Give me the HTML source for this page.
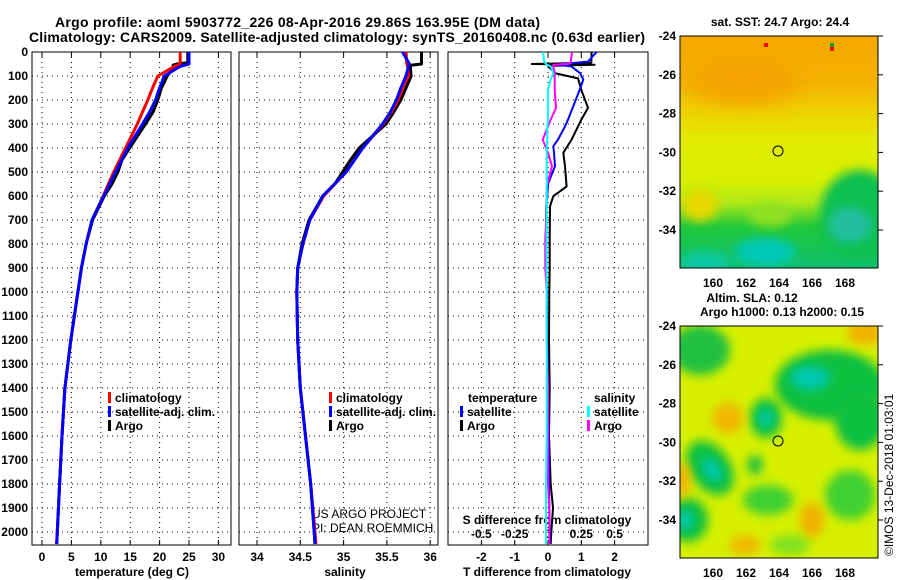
<!DOCTYPE html>
<html><head><meta charset="utf-8"><style>
body{margin:0;background:#fff;width:900px;height:580px;overflow:hidden}
svg{display:block;font-family:"Liberation Sans",sans-serif;font-weight:bold}
</style></head><body>
<svg id="c" width="900" height="580" xmlns="http://www.w3.org/2000/svg">
<defs>
<filter id="bl" x="-50%" y="-50%" width="200%" height="200%"><feGaussianBlur stdDeviation="9"/></filter>
<filter id="bl2" x="-50%" y="-50%" width="200%" height="200%"><feGaussianBlur stdDeviation="5"/></filter>
<clipPath id="m1"><rect x="680" y="36" width="198" height="232"/></clipPath>
<clipPath id="m2"><rect x="680" y="326" width="198" height="232"/></clipPath>
<linearGradient id="sst" x1="0" y1="0" x2="0" y2="1">
<stop offset="0" stop-color="#f5a800"/><stop offset="0.2" stop-color="#f3b000"/><stop offset="0.32" stop-color="#eed000"/><stop offset="0.45" stop-color="#e2ec00"/><stop offset="0.62" stop-color="#d8f000"/><stop offset="0.72" stop-color="#b0e818"/><stop offset="0.82" stop-color="#20c838"/><stop offset="1" stop-color="#10c070"/></linearGradient>
</defs>
<text x="55" y="27" font-size="14" textLength="485">Argo profile: aoml 5903772_226 08-Apr-2016 29.86S 163.95E (DM data)</text>
<text x="29" y="42" font-size="14" textLength="616">Climatology: CARS2009. Satellite-adjusted climatology: synTS_20160408.nc (0.63d earlier)</text>

<g>
<g clip-path="url(#m1)">
<rect x="680" y="36" width="198" height="232" fill="url(#sst)"/>
<ellipse cx="745" cy="80" rx="55" ry="25" fill="#f5a400" filter="url(#bl)"/>
<ellipse cx="700" cy="205" rx="18" ry="16" fill="#e8d800" filter="url(#bl2)"/>
<ellipse cx="860" cy="215" rx="40" ry="45" fill="#10c050" filter="url(#bl2)"/>
<ellipse cx="850" cy="225" rx="22" ry="18" fill="#20c0a0" filter="url(#bl2)"/>
<ellipse cx="765" cy="252" rx="30" ry="14" fill="#00c8b8" filter="url(#bl2)"/>
<ellipse cx="705" cy="262" rx="25" ry="10" fill="#10c8a8" filter="url(#bl2)"/>
<ellipse cx="770" cy="215" rx="22" ry="12" fill="#90e020" filter="url(#bl2)"/>
<rect x="764" y="43" width="4" height="4" fill="#f00"/><rect x="830" y="43" width="4" height="4" fill="#10a040"/><rect x="830" y="47" width="4" height="4" fill="#f00"/>
</g>
<rect x="680" y="36" width="198" height="232" fill="none" stroke="#000"/>
<circle cx="778" cy="151" r="5" fill="none" stroke="#000"/>
</g>
<g>
<g clip-path="url(#m2)">
<rect x="680" y="326" width="198" height="232" fill="#d6f000"/>
<ellipse cx="830" cy="385" rx="55" ry="35" fill="#10c040" filter="url(#bl2)"/>
<ellipse cx="860" cy="420" rx="25" ry="30" fill="#10c040" filter="url(#bl2)"/>
<ellipse cx="810" cy="378" rx="20" ry="12" fill="#00c8b0" filter="url(#bl2)"/>
<ellipse cx="700" cy="350" rx="30" ry="25" fill="#20c040" filter="url(#bl2)"/>
<ellipse cx="766" cy="418" rx="16" ry="20" fill="#10c040" filter="url(#bl2)"/>
<ellipse cx="766" cy="418" rx="7" ry="9" fill="#00c8b0" filter="url(#bl2)"/>
<ellipse cx="710" cy="468" rx="20" ry="30" fill="#10c040" transform="rotate(-35 710 468)" filter="url(#bl2)"/>
<ellipse cx="712" cy="470" rx="8" ry="14" fill="#00c8b0" transform="rotate(-35 712 470)" filter="url(#bl2)"/>
<ellipse cx="688" cy="520" rx="20" ry="22" fill="#10c040" filter="url(#bl2)"/>
<ellipse cx="685" cy="520" rx="8" ry="10" fill="#00c8b0" filter="url(#bl2)"/>
<ellipse cx="768" cy="500" rx="25" ry="15" fill="#40d030" filter="url(#bl2)"/>
<ellipse cx="850" cy="495" rx="25" ry="25" fill="#40d030" filter="url(#bl2)"/>
<ellipse cx="755" cy="465" rx="8" ry="10" fill="#20c040" filter="url(#bl2)"/>
<ellipse cx="728" cy="418" rx="16" ry="16" fill="#f0b800" filter="url(#bl2)"/>
<ellipse cx="812" cy="520" rx="12" ry="18" fill="#f0b000" filter="url(#bl2)"/>
<ellipse cx="865" cy="333" rx="18" ry="12" fill="#f0b000" filter="url(#bl2)"/>
<ellipse cx="682" cy="480" rx="8" ry="18" fill="#f0b000" filter="url(#bl2)"/>
<ellipse cx="745" cy="545" rx="16" ry="10" fill="#f0b800" filter="url(#bl2)"/>
<ellipse cx="790" cy="545" rx="20" ry="10" fill="#80e020" filter="url(#bl2)"/>
</g>
<rect x="680" y="326" width="198" height="232" fill="none" stroke="#000"/>
<circle cx="778" cy="441" r="5" fill="none" stroke="#000"/>
</g>
<text x="780" y="26" font-size="12" text-anchor="middle">sat. SST: 24.7 Argo: 24.4</text>
<text x="752" y="302" font-size="12" text-anchor="middle">Altim. SLA: 0.12</text>
<text x="782" y="316" font-size="12" text-anchor="middle">Argo h1000: 0.13 h2000: 0.15</text>
<text transform="translate(893,556) rotate(-90)" font-size="12" font-weight="normal">©IMOS 13-Dec-2018 01:03:01</text>
<text x="312" y="518" font-size="12" font-weight="normal">US ARGO PROJECT</text>
<text x="312" y="532" font-size="12" font-weight="normal">PI: DEAN ROEMMICH</text>
<g id="plots"></g>
</svg>
<script>
// ---- data ----
const depths = [0,50,60,100,150,200,250,300,400,500,600,700,800,900,1000,1200,1400,1600,1800,2000,2050];
const tClim = [23.5,23.5,22.5,19.7,18.8,18.0,17.1,16.2,14.2,12.2,10.4,8.5,7.5,6.7,6.1,4.9,3.9,3.4,3.0,2.6,2.5];
const tSat = [25.0,25.0,23.5,20.8,20.0,19.3,18.3,17.1,14.6,12.5,10.5,8.5,7.5,6.7,6.1,4.9,3.9,3.4,3.0,2.6,2.5];
const argoDepths = [0,45,50,55,60,100,150,200,250,300,400,450,500,550,600,700,800,900,1000,1200,1400,1600,1800,2000,2050];
const tArgo = [24.8,24.8,23.0,22.3,22.6,21.3,20.3,19.7,18.9,17.6,14.9,13.6,12.9,11.9,10.6,8.6,7.5,6.7,6.1,4.9,3.9,3.4,3.0,2.6,2.5];
const sClim = [35.72,35.73,35.74,35.75,35.68,35.63,35.55,35.46,35.22,35.03,34.77,34.61,34.53,34.47,34.46,34.47,34.5,34.56,34.62,34.67,34.68];
const sSat = [35.68,35.76,35.75,35.72,35.66,35.61,35.54,35.45,35.22,35.03,34.76,34.61,34.53,34.47,34.46,34.47,34.5,34.56,34.62,34.66,34.67];
const sArgo = [35.9,35.9,35.9,35.77,35.77,35.78,35.72,35.66,35.58,35.49,35.18,35.08,34.99,34.9,34.76,34.6,34.52,34.47,34.46,34.47,34.5,34.56,34.62,34.66,34.67];
const diffDepths = [0,40,46,53,60,88,115,158,226,233,282,310,365,393,420,476,546,560,601,643,700,782,900,1000,1200,1400,1600,1800,2000,2050];
const dTsat = [1.46,1.2,0.76,0.26,0.7,0.96,1.06,0.95,0.76,0.74,0.6,0.51,0.3,0.16,0.18,0.21,0.01,0.0,-0.03,-0.05,-0.06,-0.06,-0.05,-0.03,-0.03,0.0,0.02,0.03,0.05,0.05];
const dSsat = [-0.035,-0.03,-0.02,-0.01,0.02,0.04,0.02,0.0,0.0,0.0,0.0,-0.005,-0.005,-0.01,-0.01,-0.01,-0.01,-0.01,-0.01,-0.01,-0.01,-0.01,-0.01,-0.01,-0.01,-0.01,-0.01,-0.015,-0.015,-0.015];
const argoDiffDepths = [0,45,50,53,58,88,110,158,233,282,365,420,476,560,601,643,782,900,1000,1200,1400,1600,1800,1900,2000,2050];
const dTargo = [1.31,1.3,-0.49,1.4,0.0,0.2,0.9,1.0,1.2,1.0,0.71,0.46,0.51,0.56,0.16,0.06,0.05,0.05,0.04,0.03,0.05,0.03,0.08,0.15,0.1,0.08];
const dSargo = [0.18,0.17,0.15,0.04,0.04,0.05,0.05,0.05,0.06,0.02,-0.04,0.0,0.03,-0.01,-0.01,-0.01,-0.02,-0.02,-0.01,-0.01,0.0,0.0,0.0,0.01,0.01,0.01];
const depthTicks = [0,100,200,300,400,500,600,700,800,900,1000,1100,1200,1300,1400,1500,1600,1700,1800,1900,2000];
const tTicks = [0,5,10,15,20,25,30];
const sTicks = [34,34.5,35,35.5,36];
const dTTicks = [-2,-1,0,1,2];
const dSTicks = [-0.5,-0.25,0,0.25,0.5];
const latTicks = [-24,-26,-28,-30,-32,-34];
const lonTicks = [160,162,164,166,168];

// ---- axes ----
const NS='http://www.w3.org/2000/svg';
const g=document.getElementById('plots');
const Y=d=>52+d*0.24;
const xT=t=>42+t*5.88;
const xS=s=>257+(s-34)*86.6;
const xD=v=>548+v*33.3;
const xDS=v=>548+v*133.2;
const lonX=l=>680+(l-158)*16.5;
const latY1=l=>36+(-24-l)*19.4;
const latY2=l=>326+(-24-l)*19.4;
function el(tag,attrs,parent){const e=document.createElementNS(NS,tag);for(const k in attrs)e.setAttribute(k,attrs[k]);(parent||g).appendChild(e);return e;}
function txt(x,y,s,size,anchor){const t=el('text',{x:x,y:y,'font-size':size||12,'text-anchor':anchor||'middle'});t.textContent=s;return t;}
const panels=[{x0:32,x1:231,ticks:tTicks,f:xT,name:'temperature'},{x0:239,x1:438,ticks:sTicks,f:xS,name:'salinity'},{x0:448,x1:648,ticks:dTTicks,f:xD,name:'t-difference'}];
panels.forEach(p=>{
  const pg=el('g',{});
  
  
  depthTicks.forEach(d=>{ if(d>0) el('line',{x1:p.x0,x2:p.x1,y1:Y(d),y2:Y(d),stroke:'#000','stroke-dasharray':'1,4'},pg);});
  p.ticks.forEach(v=>{const x=p.f(v);el('line',{x1:x,x2:x,y1:52,y2:545,stroke:'#000','stroke-dasharray':'1,4'},pg);el('line',{x1:x,x2:x,y1:545,y2:540,stroke:'#000'},pg);el('line',{x1:x,x2:x,y1:52,y2:57,stroke:'#000'},pg);});
  el('rect',{x:p.x0,y:52,width:p.x1-p.x0,height:493,fill:'none',stroke:'#000'},pg);
});
depthTicks.forEach(d=>{const t=txt(28,Y(d)+4,String(d),12,'end');});
tTicks.forEach(v=>{const t=txt(xT(v),561,String(v));});
sTicks.forEach(v=>{const t=txt(xS(v),561,String(v));});
dTTicks.forEach(v=>{const t=txt(xD(v),561,String(v));});
dSTicks.forEach(v=>{const t=txt(xDS(v),538,String(v));});
let at=txt(132,576,'temperature (deg C)');
at=txt(345,576,'salinity');
at=txt(547,576,'T difference from climatology');
at=txt(547,524,'S difference from climatology');
latTicks.forEach(l=>{
  let t=txt(676,latY1(l)+4,String(l),12,'end');
  t=txt(676,latY2(l)+4,String(l),12,'end');
  el('line',{x1:878,x2:883,y1:latY1(l),y2:latY1(l),stroke:'#000'});el('line',{x1:878,x2:883,y1:latY2(l),y2:latY2(l),stroke:'#000'});
});
lonTicks.forEach(l=>{
  let t=txt(lonX(l),287,String(l));
  t=txt(lonX(l),577,String(l));
});
// ---- series ----
function line(ds,vs,fx,color,w,name){
  const pts=ds.map((d,i)=>fx(vs[i]).toFixed(1)+','+Y(d).toFixed(1)).join(' ');
  const p=el('polyline',{points:pts,fill:'none',stroke:color,'stroke-width':w,'stroke-linejoin':'round'});
  
  
}
line(argoDepths,tArgo,xT,'#000',3,'temperature-argo-line');
line(depths,tClim,xT,'#f00',3,'temperature-climatology-line');
line(depths,tSat,xT,'#00f',3,'temperature-satellite-line');
line(argoDepths,sArgo,xS,'#000',3,'salinity-argo-line');
line(depths,sClim,xS,'#f00',3,'salinity-climatology-line');
line(depths,sSat,xS,'#00f',3,'salinity-satellite-line');
line(argoDiffDepths,dTargo,xD,'#000',2,'t-diff-argo-line');
line(diffDepths,dTsat,xD,'#00f',2,'t-diff-satellite-line');
line(argoDiffDepths,dSargo,xDS,'#f0f',2,'s-diff-argo-line');
line(diffDepths,dSsat,xDS,'#0ff',2,'s-diff-satellite-line');
// ---- legends ----
function leg(x,y,color,label,name){
  const lg=el('g',{});
  
  
  el('rect',{x:x,y:y-10,width:3,height:11,fill:color},lg);
  const t=txt(x+7,y,label,12,'start');lg.appendChild(t);
}
leg(108,402,'#f00','climatology','legend-climatology');
leg(108,416,'#00f','satellite-adj. clim.','legend-satellite');
leg(108,430,'#000','Argo','legend-argo');
leg(329,402,'#f00','climatology','legend-climatology-sal');
leg(329,416,'#00f','satellite-adj. clim.','legend-satellite-sal');
leg(329,430,'#000','Argo','legend-argo-sal');
at=txt(468,402,'temperature',12,'start');
at=txt(594,402,'salinity',12,'start');
leg(460,416,'#00f','satellite','legend-t-satellite');
leg(460,430,'#000','Argo','legend-t-argo');
leg(587,416,'#0ff','satellite','legend-s-satellite');
leg(587,430,'#f0f','Argo','legend-s-argo');
</script>
</body></html>
